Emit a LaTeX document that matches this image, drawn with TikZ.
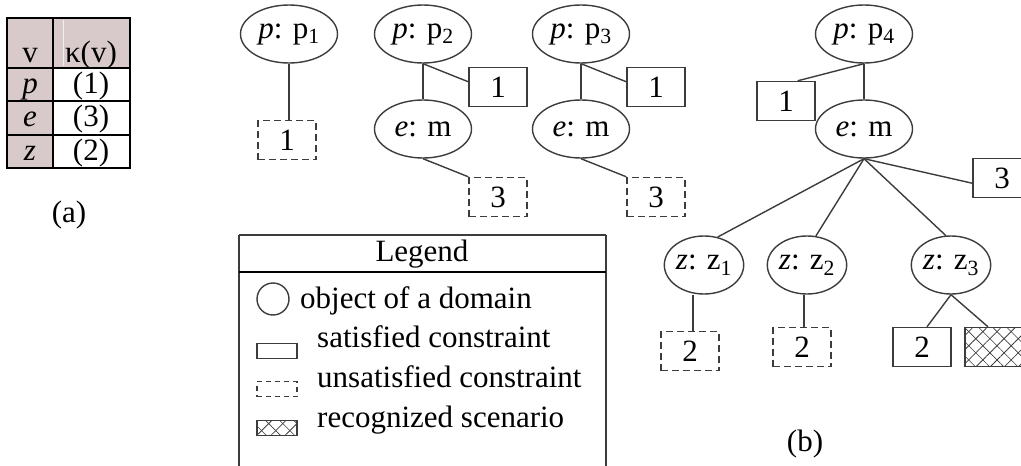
\documentclass[tikz,border=0pt]{standalone}
\usepackage{fontspec}
\setmainfont{Liberation Serif}
\usetikzlibrary{shapes.geometric,patterns.meta}
\definecolor{ln}{RGB}{60,60,60}
\definecolor{hd}{RGB}{216,202,202}
\begin{document}
\begin{tikzpicture}[x=1pt,y=-1pt,font=\fontsize{31}{36}\selectfont,
  obj/.style={ellipse,draw=ln,line width=1.4pt,minimum width=97pt,minimum height=58pt,inner sep=0pt},
  zobj/.style={obj,minimum width=79pt},
  sat/.style={rectangle,draw=ln,line width=1.4pt,minimum width=58pt,minimum height=39pt,inner sep=0pt},
  unsat/.style={sat,dash pattern=on 7pt off 4pt},
  hatched/.style={sat,preaction={pattern={Lines[angle=45,distance=10pt,line width=0.8pt]},pattern color=ln},
                  postaction={pattern={Lines[angle=-45,distance=10pt,line width=0.6pt]},pattern color=ln}},
  conn/.style={draw=ln,line width=1.4pt},
  tabtxt/.style={anchor=base,inner sep=0pt},
  legtxt/.style={anchor=base west,inner sep=0pt},
  legbox/.style={minimum width=40pt,minimum height=15pt}]
\useasboundingbox (0,0) rectangle (1021,466);
\clip (0,0) rectangle (1021,466);
% ---------- table (a)
\fill[hd] (7,18) rectangle (130,68);
\fill[hd] (7,68) rectangle (53,168);
\draw[white!70!hd,line width=0.6pt] (63,20) -- (63,66);
\draw[black,line width=2pt] (7,18) rectangle (130,168);
\draw[black,line width=2pt] (53,18) -- (53,168);
\draw[black,line width=2pt] (7,68) -- (130,68) (7,101) -- (130,101) (7,135) -- (130,135);
\node[tabtxt] (hv) at (30,62) {v};
\node[tabtxt] (hk) at (91,62) {κ(v)};
\node[tabtxt] (rp) at (30,93) {\itshape p};
\node[tabtxt] (r1) at (91,93) {(1)};
\node[tabtxt] (re) at (30,126) {\itshape e};
\node[tabtxt] (r3) at (91,126) {(3)};
\node[tabtxt] (rz) at (30,160) {\itshape z};
\node[tabtxt] (r2) at (91,160) {(2)};
\node (capa) at (69,215) {(a)};
% ---------- trees (b)
\node[obj] (p1) at (289,34) {{\itshape p}: p\textsubscript{1}};
\node[unsat] (u1) at (287,140) {1};
\draw[conn] (p1.south) -- (p1.south |- u1.north);

\node[obj] (p2) at (423,34) {{\itshape p}: p\textsubscript{2}};
\node[obj] (e2) at (423,129) {{\itshape e}: m};
\node[sat] (s2) at (498,87) {1};
\node[unsat] (u2) at (498,197) {3};
\draw[conn] (p2.south) -- (e2.north);
\draw[conn] (p2.south) -- (s2.170);
\draw[conn] (e2.south) -- (u2.north west);

\node[obj] (p3) at (581,34) {{\itshape p}: p\textsubscript{3}};
\node[obj] (e3) at (581,129) {{\itshape e}: m};
\node[sat] (s3) at (656,87) {1};
\node[unsat] (u3) at (656,197) {3};
\draw[conn] (p3.south) -- (e3.north);
\draw[conn] (p3.south) -- (s3.170);
\draw[conn] (e3.south) -- (u3.north west);

\node[obj] (p4) at (864,34) {{\itshape p}: p\textsubscript{4}};
\node[obj] (e4) at (864,129) {{\itshape e}: m};
\node[sat] (s4) at (786,101) {1};
\node[sat] (s4b) at (1002,178) {3};
\draw[conn] (p4.south) -- (e4.north);
\draw[conn] (p4.south) -- (s4.60);
\draw[conn] (e4.south) -- (s4b.190);

\node[zobj] (z1) at (704,265) {{\itshape z}: z\textsubscript{1}};
\node[zobj] (z2) at (807,265) {{\itshape z}: z\textsubscript{2}};
\node[zobj] (z3) at (951,265) {{\itshape z}: z\textsubscript{3}};
\draw[conn] (e4.south) -- (z1.64);
\draw[conn] (e4.south) -- (z2.73);
\draw[conn] (e4.south) -- (z3.100);

\node[unsat] (u5) at (690,351) {2};
\node[unsat] (u6) at (802,347) {2};
\node[sat] (s7) at (922,347) {2};
\node[hatched] (h7) at (994,347) {};
\draw[conn] ([xshift=3pt]u5.north) -- ([xshift=3pt]u5.north |- z1.south);
\draw[conn] ([xshift=2pt]u6.north) -- ([xshift=2pt]u6.north |- z2.south);
\draw[conn] (z3.south) -- ([xshift=5pt]s7.north);
\draw[conn] (z3.south) -- ([xshift=-6pt]h7.north);
\node (capb) at (805,444) {(b)};
% ---------- legend
\draw[ln,line width=1.4pt] (239,235) -- (239,480) (606,235) -- (606,480) (239,235) -- (606,235);
\draw[black,line width=1.4pt] (239,272) -- (606,272);
\node (legt) at (422,254) {Legend};
\node[circle,draw=ln,line width=1.4pt,minimum size=32pt,inner sep=0pt] (lc) at (273,299) {};
\node[legtxt] (lt1) at (300,308) {object of a domain};
\node[sat,legbox] (ls) at (277,351) {};
\node[legtxt] (lt2) at (317,347) {satisfied constraint};
\node[unsat,legbox,dash pattern=on 5pt off 4pt] (lu) at (277,389) {};
\node[legtxt] (lt3) at (317,387) {unsatisfied constraint};
\node[hatched,legbox] (lh) at (277,428) {};
\node[legtxt] (lt4) at (317,427) {recognized scenario};
\end{tikzpicture}
\end{document}
